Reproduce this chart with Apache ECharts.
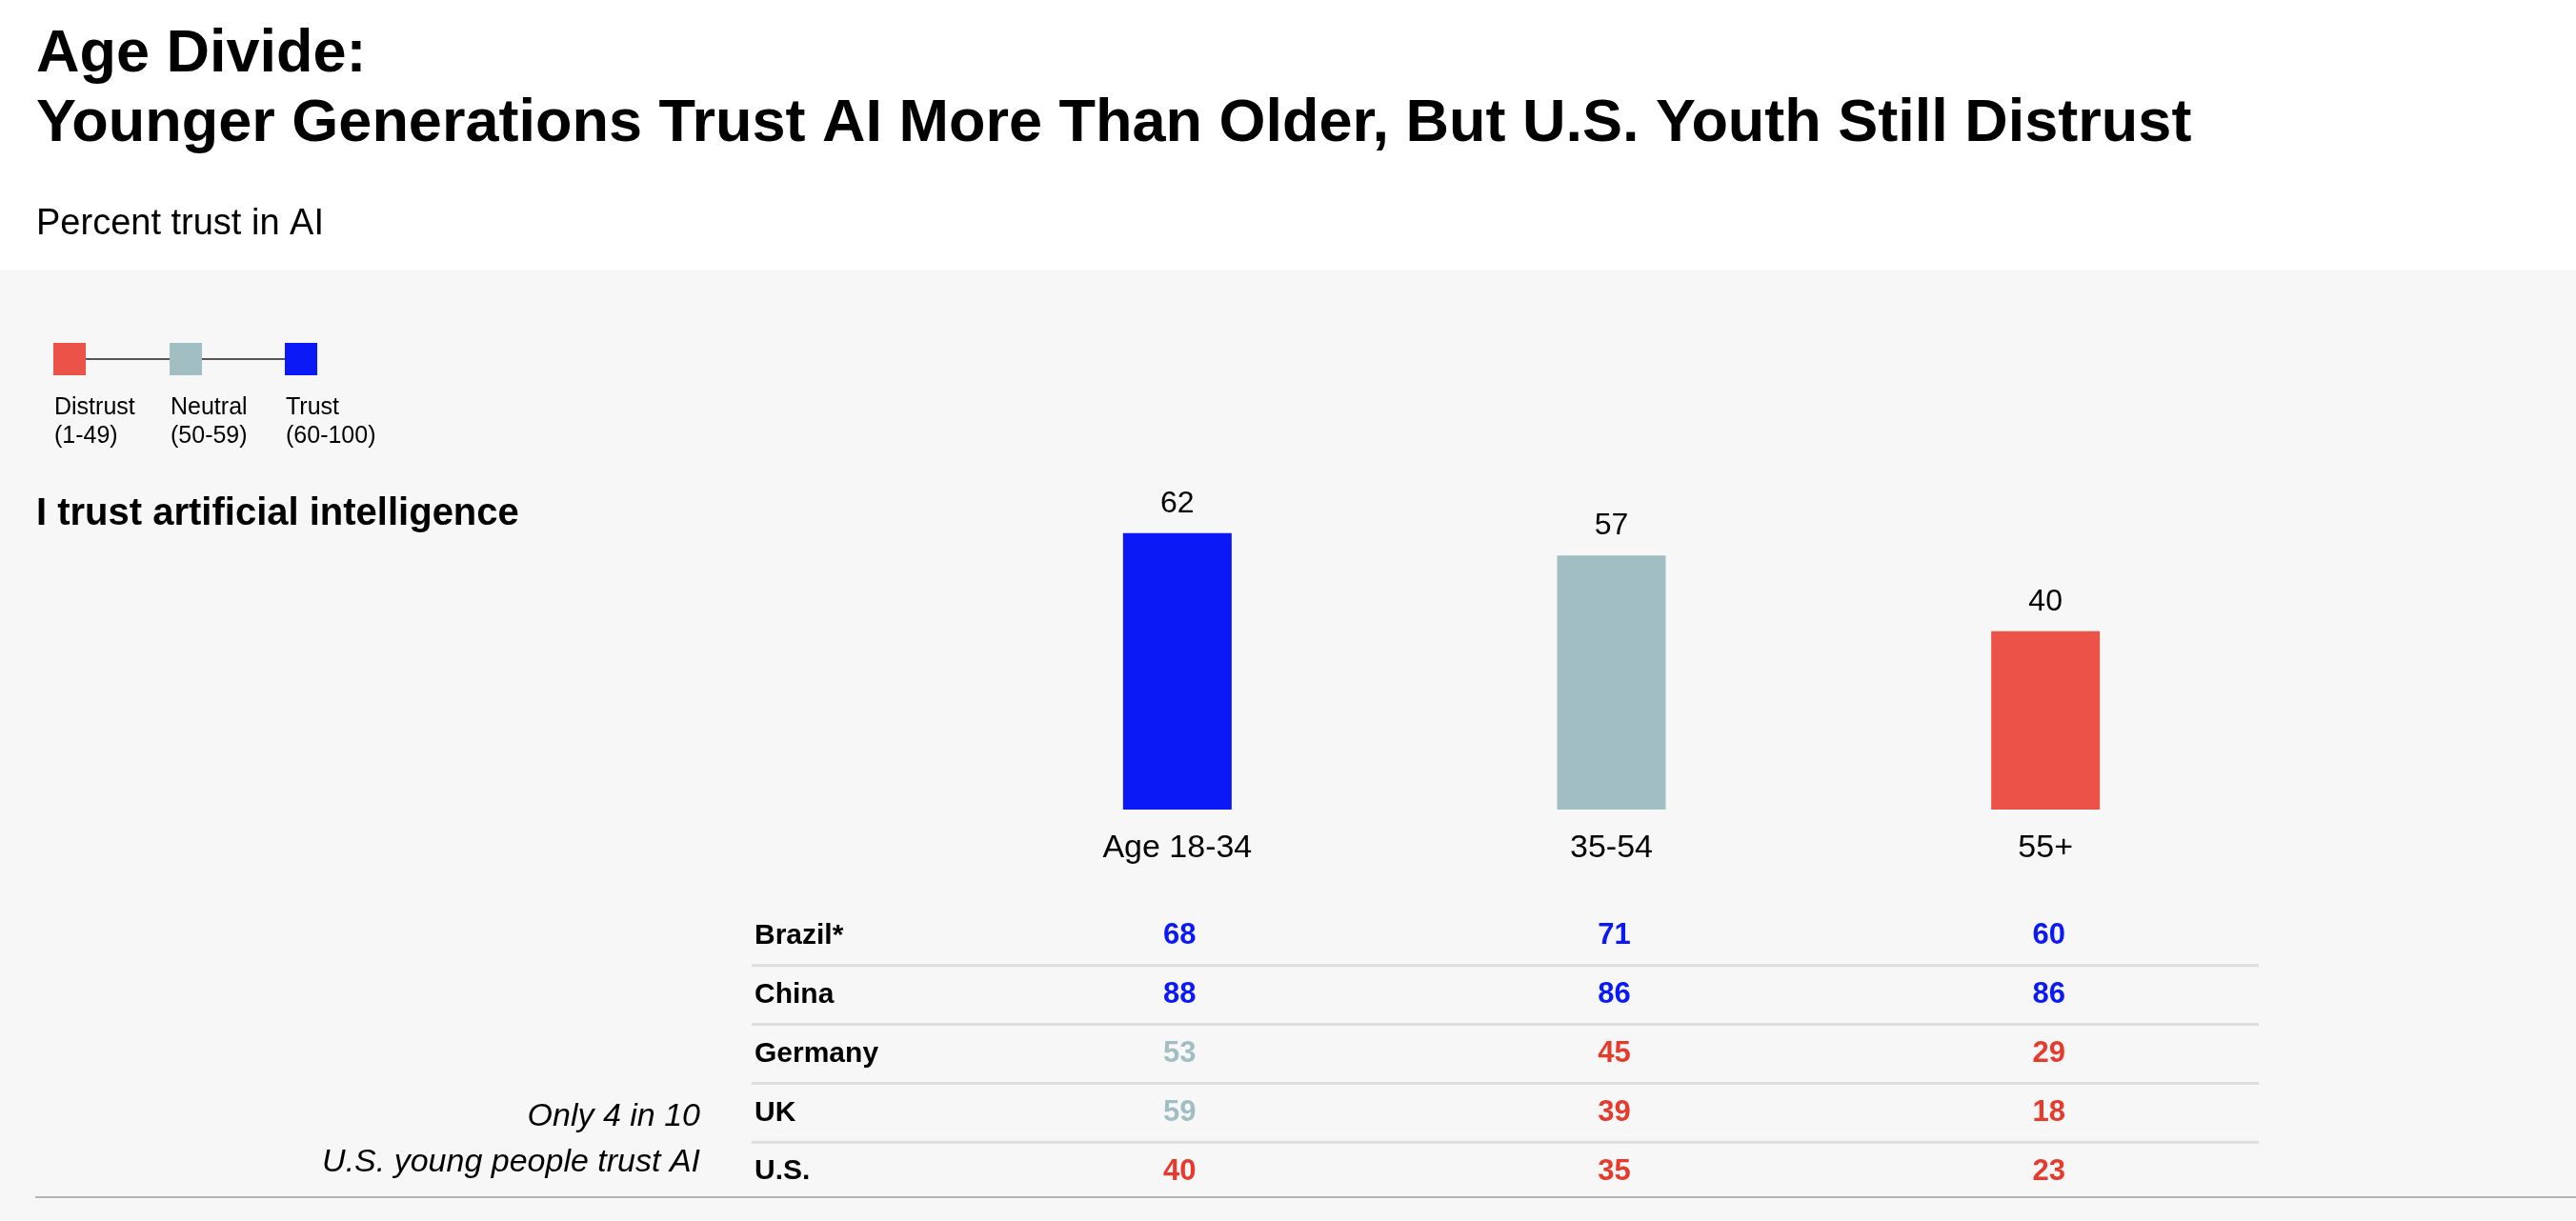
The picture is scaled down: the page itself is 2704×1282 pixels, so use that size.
<!DOCTYPE html>
<html>
<head>
<meta charset="utf-8">
<script src="https://cdn.jsdelivr.net/npm/echarts@6/dist/echarts.min.js"></script>
<style>
html,body{margin:0;padding:0;background:#fff;}
#chart{width:2704px;height:1282px;}
</style>
</head>
<body>
<div id="chart"></div>
<script>
// ---- data ----
const titleLine1 = 'Age Divide:';
const titleLine2 = 'Younger Generations Trust AI More Than Older, But U.S. Youth Still Distrust';
const subtitle = 'Percent trust in AI';
const questionLabel = 'I trust artificial intelligence';
const ageGroups = ['Age 18-34', '35-54', '55+'];
const globalTrust = [62, 57, 40];
const countries = ['Brazil*', 'China', 'Germany', 'UK', 'U.S.'];
const brazilTrust = [68, 71, 60];
const chinaTrust = [88, 86, 86];
const germanyTrust = [53, 45, 29];
const ukTrust = [59, 39, 18];
const usTrust = [40, 35, 23];
const legendLabels = ['Distrust', 'Neutral', 'Trust'];
const legendRanges = ['(1-49)', '(50-59)', '(60-100)'];
const noteLines = ['Only 4 in 10', 'U.S. young people trust AI'];

const countryRows = [brazilTrust, chinaTrust, germanyTrust, ukTrust, usTrust];

// ---- styles ----
const FONT = "'Liberation Sans', Arial, Helvetica, sans-serif";
const BAR_COLORS = { distrust: '#eb5349', neutral: '#a1bec3', trust: '#0a19f6' };
const TXT_COLORS = { distrust: '#e63a2c', neutral: '#a1bec3', trust: '#0a19f6' };
function band(v) { return v >= 60 ? 'trust' : (v >= 50 ? 'neutral' : 'distrust'); }

const chart = echarts.init(document.getElementById('chart'));

const tableData = [];
countryRows.forEach((row, i) => {
  row.forEach((v, j) => {
    tableData.push({ value: [j, i, v], label: { color: TXT_COLORS[band(v)] } });
  });
});

function txt(id, text, x, y, size, weight, align, style) {
  return {
    type: 'text', id: id, z: 100, silent: true,
    style: {
      text: text, x: x, y: y,
      font: (style || 'normal') + ' ' + (weight || 'normal') + ' ' + size + 'px ' + FONT,
      fill: '#000', textAlign: align || 'left', textVerticalAlign: 'middle'
    }
  };
}

function baseGraphics() {
  const g = [];
  g.push({ type: 'rect', id: 'bg', z: -100, silent: true,
    shape: { x: 0, y: 283, width: 2704, height: 1282 - 283 }, style: { fill: '#f7f7f7' } });
  g.push(txt('t1', titleLine1, 38, 58, 63, 'bold'));
  g.push(txt('t2', titleLine2, 38, 131, 63, 'bold'));
  g.push(txt('sub', subtitle, 38, 236, 38));
  // legend
  const lx = [56, 178, 299];
  const keys = ['distrust', 'neutral', 'trust'];
  g.push({ type: 'line', id: 'legline', z: 99, silent: true,
    shape: { x1: lx[0] + 17, y1: 377, x2: lx[2] + 17, y2: 377 },
    style: { stroke: '#555', lineWidth: 2 } });
  legendLabels.forEach((lab, i) => {
    g.push({ type: 'rect', id: 'legsq' + i, z: 100, silent: true,
      shape: { x: lx[i], y: 360, width: 34, height: 34 }, style: { fill: BAR_COLORS[keys[i]] } });
    g.push(txt('legl' + i, lab, lx[i] + 1, 428, 25));
    g.push(txt('legr' + i, legendRanges[i], lx[i] + 1, 458, 25));
  });
  g.push(txt('q', questionLabel, 38, 540, 40, 'bold'));
  g.push(txt('n1', noteLines[0], 735, 1173, 34, 'normal', 'right', 'italic'));
  g.push(txt('n2', noteLines[1], 735, 1221, 34, 'normal', 'right', 'italic'));
  g.push({ type: 'line', id: 'bottomline', z: 99, silent: true,
    shape: { x1: 37, y1: 1257, x2: 2704, y2: 1257 }, style: { stroke: '#b4b4b4', lineWidth: 2 } });
  return g;
}

const option = {
  backgroundColor: '#ffffff',
  animation: false,
  textStyle: { fontFamily: FONT },
  grid: [
    { left: 1008, right: 329, top: 382, bottom: 432 },
    { left: 1010, right: 325, top: 952, bottom: 21 }
  ],
  xAxis: [
    { type: 'category', gridIndex: 0, data: ageGroups,
      axisLine: { show: false }, axisTick: { show: false },
      axisLabel: { color: '#000', fontSize: 34, margin: 24, fontFamily: FONT } },
    { type: 'category', gridIndex: 1, data: ageGroups, show: false }
  ],
  yAxis: [
    { type: 'value', gridIndex: 0, min: 0, max: 100, show: false },
    { type: 'category', gridIndex: 1, data: countries, inverse: true,
      axisLine: { show: false }, axisTick: { show: false }, splitLine: { show: false },
      axisLabel: { align: 'left', margin: 218, color: '#000', fontSize: 30, fontWeight: 'bold', fontFamily: FONT } }
  ],
  series: [
    { type: 'bar', xAxisIndex: 0, yAxisIndex: 0, barWidth: 114,
      data: globalTrust.map(v => ({ value: v, itemStyle: { color: BAR_COLORS[band(v)] } })),
      label: { show: true, position: 'top', distance: 15, color: '#000', fontSize: 32, fontFamily: FONT } },
    { type: 'scatter', xAxisIndex: 1, yAxisIndex: 1, symbolSize: 0,
      itemStyle: { color: '#000', opacity: 1 },
      emphasis: { disabled: true },
      data: tableData,
      label: { show: true, position: 'inside', fontSize: 31, fontWeight: 'bold', fontFamily: FONT,
        formatter: p => String(p.value[2]) } }
  ],
  graphic: baseGraphics()
};

chart.setOption(option);

// row separators at category boundaries of the table grid
const g = baseGraphics();
for (let i = 0; i < countries.length - 1; i++) {
  const y0 = chart.convertToPixel({ yAxisIndex: 1 }, i);
  const y1 = chart.convertToPixel({ yAxisIndex: 1 }, i + 1);
  const y = (y0 + y1) / 2;
  g.push({ type: 'line', id: 'sep' + i, z: 50, silent: true,
    shape: { x1: 789, y1: y, x2: 2371, y2: y }, style: { stroke: '#dddddd', lineWidth: 3 } });
}
chart.setOption({ graphic: g });
</script>
</body>
</html>
